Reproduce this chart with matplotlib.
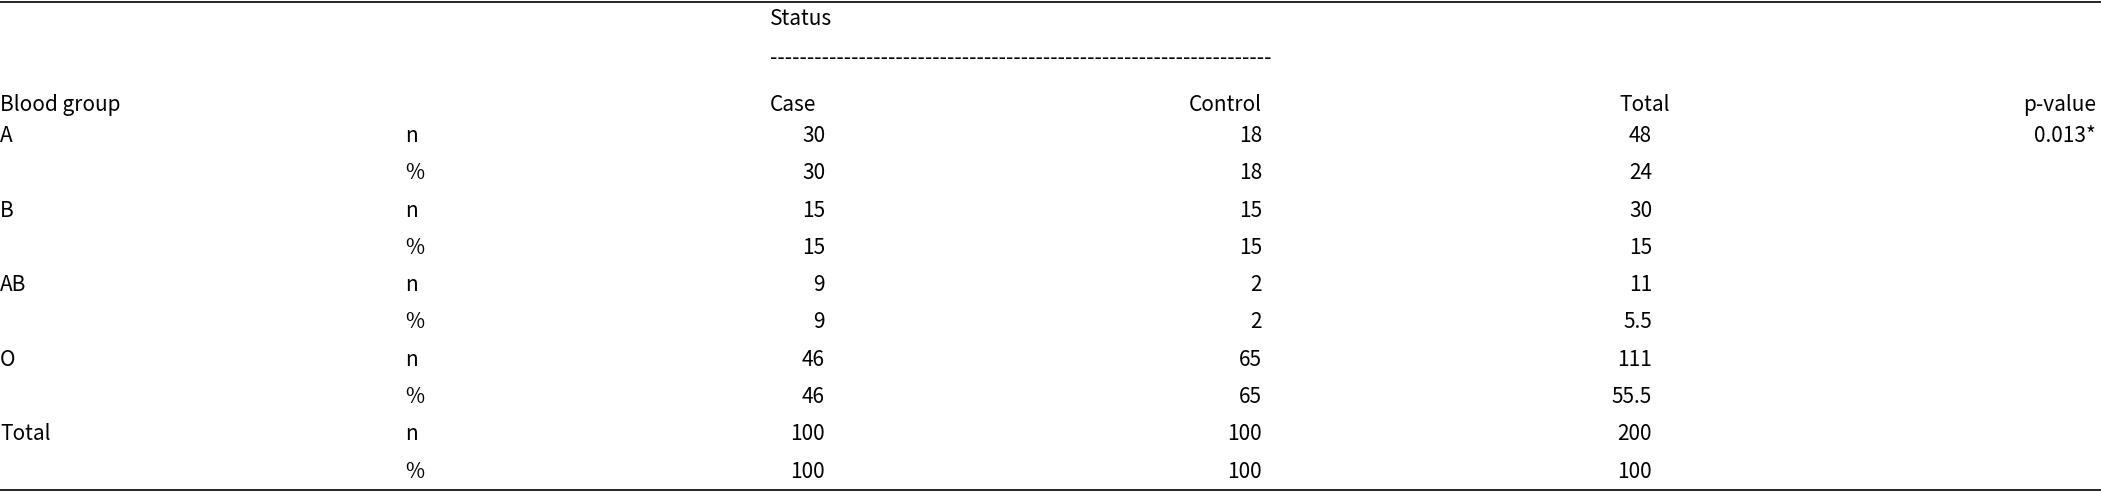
import matplotlib.pyplot as plt

plt.rcParams['font.family'] = ['Noto Sans CJK JP', 'DejaVu Sans']

groups = ['A', 'B', 'AB', 'O', 'Total']
case_n = ['30', '15', '9', '46', '100']
case_pct = ['30', '15', '9', '46', '100']
control_n = ['18', '15', '2', '65', '100']
control_pct = ['18', '15', '2', '65', '100']
total_n = ['48', '30', '11', '111', '200']
total_pct = ['24', '15', '5.5', '55.5', '100']
p_values = ['0.013*', '', '', '', '']

W, H = 2101, 493
fig = plt.figure(figsize=(W / 100, H / 100), dpi=100)
ax = fig.add_axes([0, 0, 1, 1])
ax.set_xlim(0, W)
ax.set_ylim(H, 0)
ax.axis('off')

fs = 15
ax.plot([0, W], [2, 2], color='black', lw=1.2)
ax.plot([0, W], [490, 490], color='black', lw=1.2)

ax.text(770, 19, 'Status', fontsize=fs, va='center')
ax.text(770, 58, '-' * 68, fontsize=fs, va='center')
ax.text(0, 105, 'Blood group', fontsize=fs, va='center')
ax.text(770, 105, 'Case', fontsize=fs, va='center')
ax.text(1262, 105, 'Control', fontsize=fs, va='center', ha='right')
ax.text(1670, 105, 'Total', fontsize=fs, va='center', ha='right')
ax.text(2096, 105, 'p-value', fontsize=fs, va='center', ha='right')

y0, dy = 136, 37.3
for i, g in enumerate(groups):
    yn = y0 + 2 * i * dy
    yp = yn + dy
    ax.text(0, yn, g, fontsize=fs, va='center')
    ax.text(405, yn, 'n', fontsize=fs, va='center')
    ax.text(405, yp, '%', fontsize=fs, va='center')
    for x, vn, vp in [(825, case_n[i], case_pct[i]),
                      (1262, control_n[i], control_pct[i]),
                      (1652, total_n[i], total_pct[i])]:
        ax.text(x, yn, vn, fontsize=fs, va='center', ha='right')
        ax.text(x, yp, vp, fontsize=fs, va='center', ha='right')
    ax.text(2096, yn, p_values[i], fontsize=fs, va='center', ha='right')

fig.savefig('out.png', dpi=100)
